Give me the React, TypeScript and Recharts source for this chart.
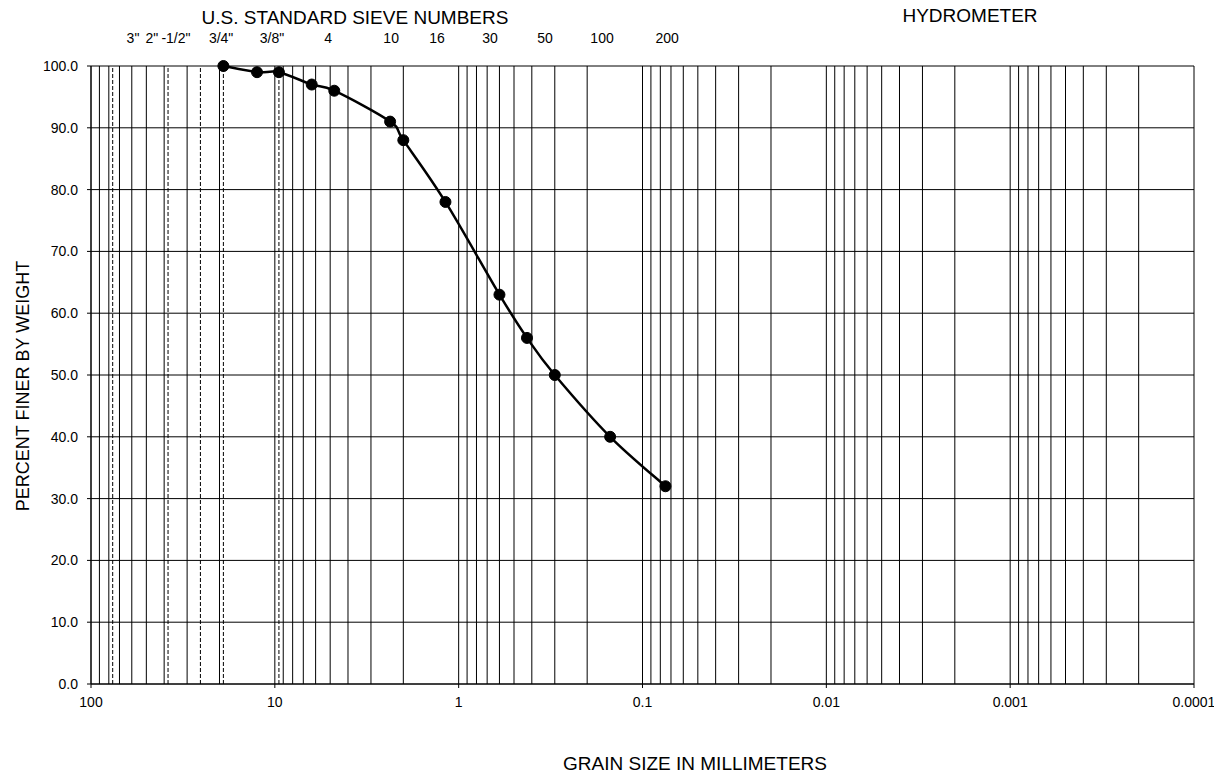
import { LineChart, Line, XAxis, YAxis, CartesianGrid, ReferenceLine, ReferenceDot } from 'recharts';

// grain size (mm) and percent finer
const grainSize = [19.05, 12.5, 9.5, 6.3, 4.75, 2.36, 2.0, 1.18, 0.6, 0.425, 0.3, 0.15, 0.075];
const percentFiner = [100, 99, 99, 97, 96, 91, 88, 78, 63, 56, 50, 40, 32];

// decade labels on the bottom axis
const decades = [100, 10, 1, 0.1, 0.01, 0.001, 0.0001];
const percentTicks = [0, 10, 20, 30, 40, 50, 60, 70, 80, 90, 100];

// sieve openings drawn as dashed lines (3", 1-1/2", 1", 3/4", 3/8")
const dashedSieves = [76.2, 38.1, 25.4, 19.05, 9.5];

// labels along the top and where they sit (mm)
const sieveLabels = ['3"', '2"', '-1/2"', '3/4"', '3/8"', '4', '10', '16', '30', '50', '100', '200'];
const sieveLabelAt = [59.1, 46.6, 34.5, 19.6, 10.36, 5.13, 2.33, 1.31, 0.675, 0.339, 0.166, 0.0735];

const gridMultipliers = [9, 8, 7, 6, 5, 4, 3, 2, 1];

const data = grainSize.map((size, i) => ({ size, percent: percentFiner[i] }));

// log grid: 100, then 9..1 x 10^n for every lower decade
const gridTicks = [decades[0], ...decades.slice(1).flatMap((d) => gridMultipliers.map((m) => m * d))];

const W = 1212;
const H = 750;
const BOX_H = 767;
const FONT = '"Liberation Sans", Arial, sans-serif';

// Excel-style smoothed line (cardinal bezier through the points)
function excelSmooth(context: any) {
  let pts: number[][] = [];
  return {
    areaStart() {},
    areaEnd() {},
    lineStart() {
      pts = [];
    },
    point(x: number, y: number) {
      pts.push([+x, +y]);
    },
    lineEnd() {
      if (!pts.length) return;
      context.moveTo(pts[0][0], pts[0][1]);
      const t = 1 / 6;
      for (let i = 0; i < pts.length - 1; i++) {
        const p0 = pts[i - 1] || pts[i];
        const p1 = pts[i];
        const p2 = pts[i + 1];
        const p3 = pts[i + 2] || p2;
        context.bezierCurveTo(
          p1[0] + (p2[0] - p0[0]) * t,
          p1[1] + (p2[1] - p0[1]) * t,
          p2[0] - (p3[0] - p1[0]) * t,
          p2[1] - (p3[1] - p1[1]) * t,
          p2[0],
          p2[1]
        );
      }
    },
  };
}

function GrainTick(props: any) {
  const { x, y, payload } = props;
  const label = decades.find((d) => Math.abs(d - payload.value) < d * 1e-6);
  if (label === undefined) return <g />;
  return (
    <g>
      <line x1={x} x2={x} y1={y - 6} y2={y - 2} stroke="#000" />
      <text x={x} y={y + 17} textAnchor="middle" fontSize={14} fill="#000">
        {String(label)}
      </text>
    </g>
  );
}

const titleStyle = {
  position: 'absolute' as const,
  transform: 'translate(-50%, -50%)',
  whiteSpace: 'nowrap' as const,
  fontSize: 19,
  lineHeight: '19px',
  color: '#000',
};

export default function App() {
  return (
    <div style={{ position: 'relative', width: W, height: BOX_H, fontFamily: FONT }}>
      <style>{'html, body { overflow: hidden; }'}</style>
      <LineChart width={W} height={H} data={data} margin={{ top: 58, right: 26, bottom: 34, left: 0 }}>
        <CartesianGrid stroke="#000" />
        <XAxis
          dataKey="size"
          type="number"
          scale="log"
          domain={[0.0001, 100]}
          reversed
          ticks={gridTicks}
          interval={0}
          tick={GrainTick}
          tickLine={false}
          tickSize={4}
          tickMargin={2}
          axisLine={{ stroke: '#000' }}
          height={40}
        />
        <YAxis
          type="number"
          domain={[0, 100]}
          ticks={percentTicks}
          interval={0}
          tickFormatter={(v: number) => v.toFixed(1)}
          width={83}
          tickSize={4}
          tickMargin={9}
          tick={{ fontSize: 14, fill: '#000' }}
          tickLine={{ stroke: '#000' }}
          axisLine={{ stroke: '#000' }}
        />
        {dashedSieves.map((s) => (
          <ReferenceLine key={s} x={s} stroke="#000" strokeDasharray="4 2" />
        ))}
        {sieveLabelAt.map((s, i) => (
          <ReferenceDot
            key={'lbl' + s}
            x={s}
            y={100}
            r={0}
            fill="none"
            stroke="none"
            label={{ value: sieveLabels[i], position: 'top', offset: 23, fontSize: 14, fill: '#000' }}
          />
        ))}
        <Line
          dataKey="percent"
          type={excelSmooth as any}
          stroke="#000"
          strokeWidth={2.5}
          dot={{ r: 5.5, fill: '#000', stroke: '#000', strokeWidth: 1 }}
          isAnimationActive={false}
        />
      </LineChart>
      <div style={{ ...titleStyle, left: 347, top: 8.5 }}>U.S. STANDARD SIEVE NUMBERS</div>
      <div style={{ ...titleStyle, left: 962, top: 6.5 }}>HYDROMETER</div>
      <div style={{ ...titleStyle, left: 687, top: 755 }}>GRAIN SIZE IN MILLIMETERS</div>
      <div
        style={{
          ...titleStyle,
          fontSize: 18,
          lineHeight: '18px',
          left: 15,
          top: 378,
          transform: 'translate(-50%, -50%) rotate(-90deg)',
        }}
      >
        PERCENT FINER BY WEIGHT
      </div>
    </div>
  );
}
